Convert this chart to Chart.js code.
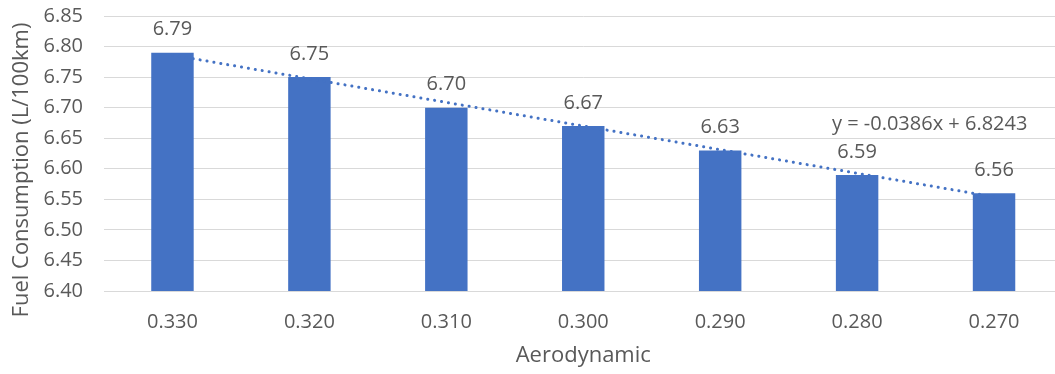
<!DOCTYPE html>
<html>
<head>
<meta charset="utf-8">
<script src="https://cdn.jsdelivr.net/npm/chart.js@4/dist/chart.umd.min.js"></script>
<style>
  html, body { margin: 0; padding: 0; background: #fff; overflow: hidden; }
  #wrap { width: 1072px; height: 374px; position: relative; }
</style>
</head>
<body>
<div id="wrap"><canvas id="chart"></canvas></div>
<script>
/* ---------- DATA ---------- */
const dragCoeff = ["0.330", "0.320", "0.310", "0.300", "0.290", "0.280", "0.270"];
const fuelUse = [6.79, 6.75, 6.70, 6.67, 6.63, 6.59, 6.56];
// linear trend, read at the first and last bar
const trendLine = [6.786, null, null, null, null, null, 6.554];
const trendLabel = "y = -0.0386x + 6.8243";
const yTitle = "Fuel Consumption (L/100km)";

const FONT = "'Open Sans', 'Liberation Sans', sans-serif";
const TEXT = "#595959";
const BLUE = "#4472C4";

/* ---------- LABELS PLUGIN ---------- */
const labelPlugin = {
  id: "labels",
  afterDatasetsDraw(chart) {
    const ctx = chart.ctx;
    const bars = chart.getDatasetMeta(0).data;
    const xs = chart.scales.x, ys = chart.scales.y;
    ctx.save();
    ctx.fillStyle = TEXT;
    ctx.textAlign = "center";
    ctx.textBaseline = "middle";
    ctx.font = "20px " + FONT;
    bars.forEach((b, i) => {
      ctx.fillText(fuelUse[i].toFixed(2), b.x, b.y - 23);
    });
    // trend equation
    ctx.fillText(trendLabel, xs.getPixelForValue(5.53), ys.getPixelForValue(6.672));
    // y axis title (centred a little below the plot middle, like the original)
    ctx.font = "22px " + FONT;
    ctx.translate(22, 170);
    ctx.rotate(-Math.PI / 2);
    ctx.fillText(yTitle, 0, 0);
    ctx.restore();
  }
};

/* ---------- CHART ---------- */
new Chart(document.getElementById("chart"), {
  type: "bar",
  data: {
    labels: dragCoeff,
    datasets: [
      {
        type: "bar",
        data: fuelUse,
        backgroundColor: BLUE,
        categoryPercentage: 1,
        barPercentage: 0.31,
        order: 2
      },
      {
        type: "line",
        data: trendLine,
        spanGaps: true,
        borderColor: BLUE,
        borderWidth: 3,
        borderDash: [0.1, 6.9],
        borderCapStyle: "round",
        pointRadius: 0,
        fill: false,
        order: 1
      }
    ]
  },
  options: {
    responsive: true,
    maintainAspectRatio: false,
    animation: false,
    layout: { padding: { top: 16, right: 9.5, bottom: 5, left: 0 } },
    plugins: { legend: { display: false }, tooltip: { enabled: false } },
    scales: {
      x: {
        grid: { display: false },
        border: { color: "#d9d9d9" },
        ticks: { color: TEXT, font: { family: FONT, size: 20 }, padding: 11 },
        title: {
          display: true, text: "Aerodynamic", color: TEXT,
          font: { family: FONT, size: 22 }, padding: { top: 9, bottom: 0 }
        },
        afterFit(scale) { scale.height = 78; }
      },
      y: {
        min: 6.40,
        max: 6.85,
        ticks: {
          stepSize: 0.05, color: TEXT, padding: 0,
          font: { family: FONT, size: 20 },
          callback: v => v.toFixed(2)
        },
        grid: { color: "#d9d9d9", drawTicks: true, tickLength: 21, tickColor: "rgba(0,0,0,0)" },
        border: { display: false },
        afterFit(scale) { scale.width = 104; }
      }
    }
  },
  plugins: [labelPlugin]
});
</script>
</body>
</html>
